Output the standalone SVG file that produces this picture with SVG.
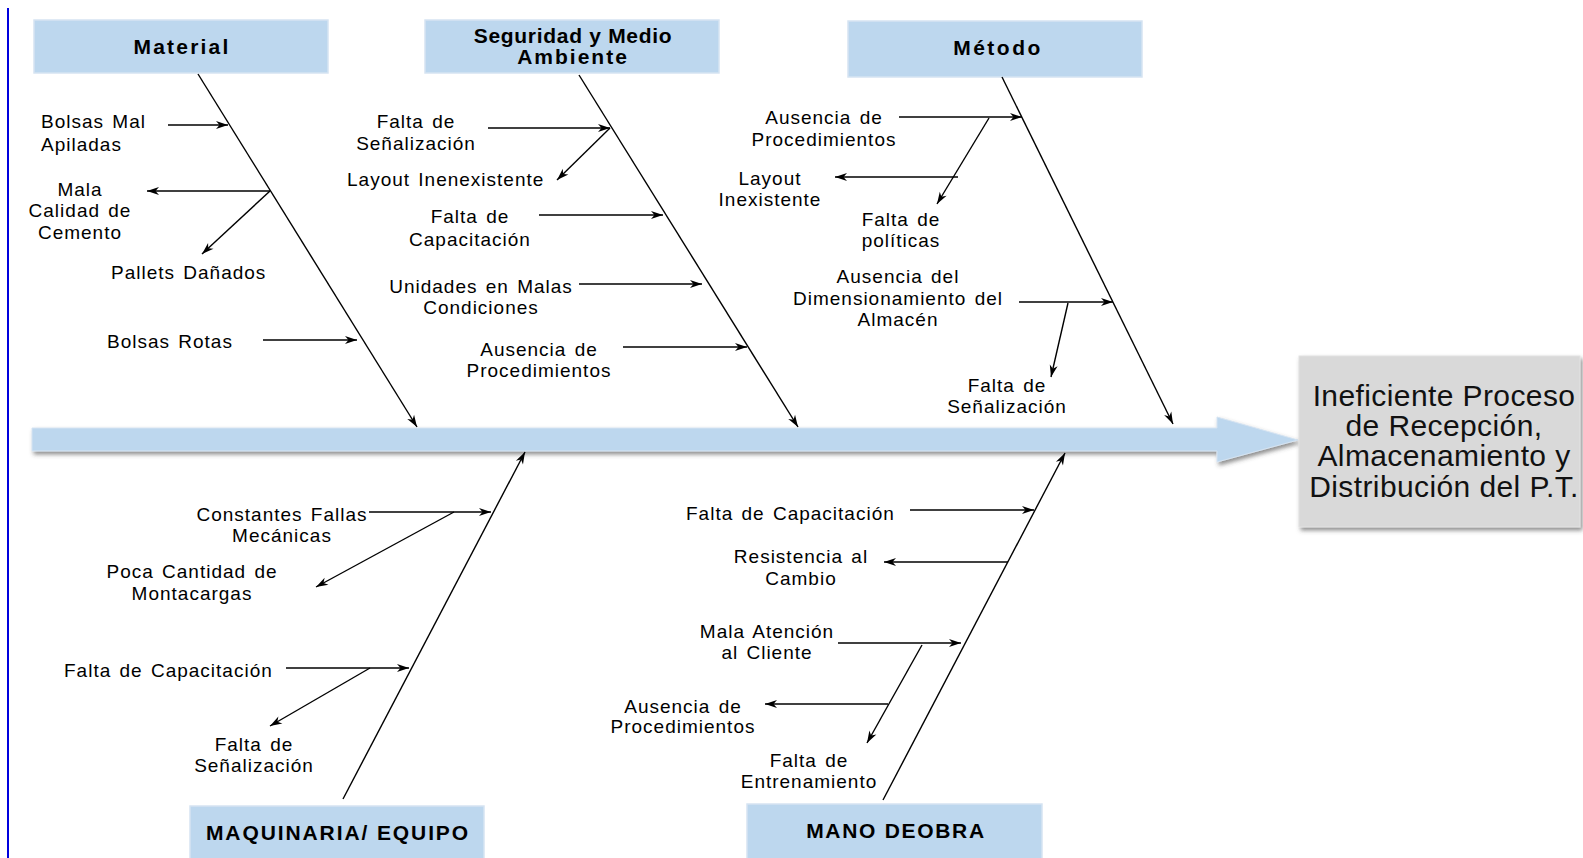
<svg xmlns="http://www.w3.org/2000/svg" width="1583" height="858" viewBox="0 0 1583 858">
<defs>
<marker id="ah" markerUnits="userSpaceOnUse" markerWidth="14" markerHeight="10" refX="12" refY="4" orient="auto" overflow="visible">
<path d="M0,0 L12,4 L0,8 L3.5,4 Z" fill="#000"/>
</marker>
<filter id="sh" x="-5%" y="-20%" width="115%" height="160%">
<feDropShadow dx="2" dy="3" stdDeviation="2" flood-color="#444" flood-opacity="0.6"/>
</filter>
<style>
.hdr{fill:#bdd7ee;stroke:#d6e4f2;stroke-width:1.5}
.ht{font-family:"Liberation Sans",Arial,sans-serif;font-weight:bold;font-size:21px;fill:#000;text-anchor:middle}
.t{font-family:"Liberation Sans",Arial,sans-serif;font-size:19px;fill:#000;letter-spacing:1px;word-spacing:2px}
.c{text-anchor:middle}
.ln{stroke:#000;stroke-width:1.4;fill:none}
.ar{stroke:#000;stroke-width:1.4;fill:none;marker-end:url(#ah)}
.big{font-family:"Liberation Sans",Arial,sans-serif;font-size:30px;fill:#111;text-anchor:middle;letter-spacing:0.4px}
</style>
</defs>
<rect width="1583" height="858" fill="#fff"/>
<line x1="8" y1="8" x2="8" y2="858" stroke="#0000dd" stroke-width="2"/>

<g id="main-arrow">
<polygon points="32,428 1217,428 1217,417 1298,440 1217,462 1217,451 32,451" fill="#bdd7ee" stroke="#d6e4f2" stroke-width="1" filter="url(#sh)"/>
</g>

<g id="effect">
<rect x="1299" y="356" width="281" height="171" fill="#d9d9d9" stroke="#e2e2e2" filter="url(#sh)"/>
<text class="big" x="1444" y="406">Ineficiente Proceso</text>
<text class="big" x="1444" y="436">de Recepción,</text>
<text class="big" x="1444" y="466">Almacenamiento y</text>
<text class="big" x="1444" y="497">Distribución del P.T.</text>
</g>

<g id="material">
<rect class="hdr" x="34" y="20" width="294" height="53"/>
<text class="ht" x="182" y="54" style="letter-spacing:2.2px">Material</text>
<text class="t" x="41" y="128">Bolsas Mal</text>
<text class="t" x="41" y="151">Apiladas</text>
<text class="t c" x="80" y="196">Mala</text>
<text class="t c" x="80" y="217">Calidad de</text>
<text class="t c" x="80" y="239">Cemento</text>
<text class="t" x="111" y="279">Pallets Dañados</text>
<text class="t" x="107" y="348">Bolsas Rotas</text>
</g>

<g id="seguridad">
<rect class="hdr" x="425" y="20" width="294" height="53"/>
<text class="ht" x="573" y="43" style="letter-spacing:0.7px">Seguridad y Medio</text>
<text class="ht" x="573" y="64" style="letter-spacing:2px">Ambiente</text>
<text class="t c" x="416" y="128">Falta de</text>
<text class="t c" x="416" y="150">Señalización</text>
<text class="t" x="347" y="186">Layout Inenexistente</text>
<text class="t c" x="470" y="223">Falta de</text>
<text class="t c" x="470" y="246">Capacitación</text>
<text class="t c" x="481" y="293">Unidades en Malas</text>
<text class="t c" x="481" y="314">Condiciones</text>
<text class="t c" x="539" y="356">Ausencia de</text>
<text class="t c" x="539" y="377">Procedimientos</text>
</g>

<g id="metodo">
<rect class="hdr" x="848" y="21" width="294" height="56"/>
<text class="ht" x="998" y="55" style="letter-spacing:2.5px">Método</text>
<text class="t c" x="824" y="124">Ausencia de</text>
<text class="t c" x="824" y="146">Procedimientos</text>
<text class="t c" x="770" y="185">Layout</text>
<text class="t c" x="770" y="206">Inexistente</text>
<text class="t c" x="901" y="226">Falta de</text>
<text class="t c" x="901" y="247">políticas</text>
<text class="t c" x="898" y="283">Ausencia del</text>
<text class="t c" x="898" y="305">Dimensionamiento del</text>
<text class="t c" x="898" y="326">Almacén</text>
<text class="t c" x="1007" y="392">Falta de</text>
<text class="t c" x="1007" y="413">Señalización</text>
</g>

<g id="maquinaria">
<rect class="hdr" x="190" y="806" width="294" height="56"/>
<text class="ht" x="338" y="840" style="letter-spacing:1.9px">MAQUINARIA/ EQUIPO</text>
<text class="t c" x="282" y="521">Constantes Fallas</text>
<text class="t c" x="282" y="542">Mecánicas</text>
<text class="t c" x="192" y="578">Poca Cantidad de</text>
<text class="t c" x="192" y="600">Montacargas</text>
<text class="t" x="64" y="677">Falta de Capacitación</text>
<text class="t c" x="254" y="751">Falta de</text>
<text class="t c" x="254" y="772">Señalización</text>
</g>

<g id="mano-de-obra">
<rect class="hdr" x="747" y="804" width="295" height="58"/>
<text class="ht" x="896" y="838" style="letter-spacing:1.7px">MANO DEOBRA</text>
<text class="t" x="686" y="520">Falta de Capacitación</text>
<text class="t c" x="801" y="563">Resistencia al</text>
<text class="t c" x="801" y="585">Cambio</text>
<text class="t c" x="767" y="638">Mala Atención</text>
<text class="t c" x="767" y="659">al Cliente</text>
<text class="t c" x="683" y="713">Ausencia de</text>
<text class="t c" x="683" y="733">Procedimientos</text>
<text class="t c" x="809" y="767">Falta de</text>
<text class="t c" x="809" y="788">Entrenamiento</text>
</g>

<g id="connectors">
<line class="ar" x1="198" y1="74" x2="417" y2="427"/>
<line class="ar" x1="579" y1="75" x2="798" y2="427"/>
<line class="ar" x1="1002" y1="77" x2="1173" y2="424"/>
<line class="ar" x1="343" y1="799" x2="525" y2="452"/>
<line class="ar" x1="883" y1="800" x2="1065" y2="453"/>
<line class="ar" x1="168" y1="125" x2="228" y2="125"/>
<line class="ar" x1="270" y1="191" x2="147" y2="191"/>
<line class="ar" x1="270" y1="191" x2="202" y2="254"/>
<line class="ar" x1="263" y1="340" x2="357" y2="340"/>
<line class="ar" x1="488" y1="128" x2="610" y2="128"/>
<line class="ar" x1="610" y1="128" x2="557" y2="180"/>
<line class="ar" x1="539" y1="215" x2="663" y2="215"/>
<line class="ar" x1="579" y1="284" x2="702" y2="284"/>
<line class="ar" x1="623" y1="347" x2="747" y2="347"/>
<line class="ar" x1="899" y1="117" x2="1022" y2="117"/>
<line class="ar" x1="989" y1="118" x2="937" y2="204"/>
<line class="ar" x1="958" y1="177" x2="835" y2="177"/>
<line class="ar" x1="1019" y1="302" x2="1113" y2="302"/>
<line class="ar" x1="1068" y1="303" x2="1051" y2="377"/>
<line class="ar" x1="369" y1="512" x2="491" y2="512"/>
<line class="ar" x1="454" y1="512" x2="316" y2="587"/>
<line class="ar" x1="286" y1="668" x2="409" y2="668"/>
<line class="ar" x1="370" y1="668" x2="270" y2="726"/>
<line class="ar" x1="910" y1="510" x2="1034" y2="510"/>
<line class="ar" x1="1008" y1="562" x2="884" y2="562"/>
<line class="ar" x1="838" y1="643" x2="961" y2="643"/>
<line class="ar" x1="922" y1="645" x2="867" y2="743"/>
<line class="ar" x1="888" y1="704" x2="765" y2="704"/>
</g>
</svg>
